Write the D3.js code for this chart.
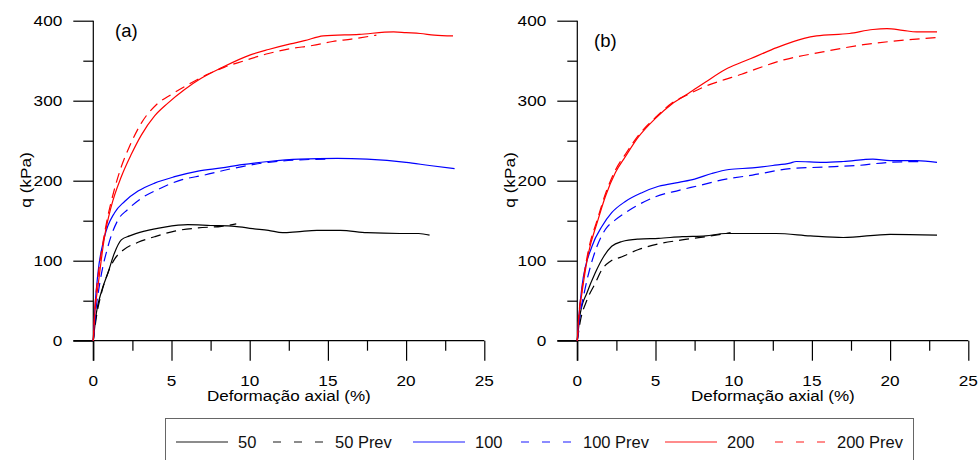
<!DOCTYPE html>
<html><head><meta charset="utf-8">
<script src="https://cdn.jsdelivr.net/npm/d3@7"></script>
<style>body{margin:0;background:#fff}svg{display:block;font-family:"Liberation Sans",Arial,sans-serif}</style>
</head><body><svg id="c" width="980" height="460"></svg>
<script>
const xTicks = [0, 5, 10, 15, 20, 25];
const yTicks = [0, 100, 200, 300, 400];
const xMinor = [2.5, 7.5, 12.5, 17.5, 22.5];
const yMinor = [50, 150, 250, 350];
const seriesNames = ["50", "50 Prev", "100", "100 Prev", "200", "200 Prev"];
const seriesColors = ["#000000", "#000000", "#0000ff", "#0000ff", "#ff0000", "#ff0000"];
const legendColors = ["#666666", "#666666", "#6666ff", "#6666ff", "#ff6666", "#ff6666"];
const seriesDashed = [false, true, false, true, false, true];
const panelLabels = ["(a)", "(b)"];
const xTitle = "Deformação axial (%)";
const yTitle = "q (kPa)";

// Panel (a)
const a50 = [[0,0],[0.2,35],[0.5,60],[0.94,85],[1.36,110],[1.79,126],[2.32,131],[3.28,137],[4.56,142],[6.05,145],[7.5,144],[9.04,143],[10.2,140],[11.2,138],[12.1,135],[13,136],[14.3,138],[15.8,138],[17.5,135],[19.6,134],[20.8,134],[21.5,132]];
const a50p = [[0,0],[0.2,30],[0.5,58],[0.94,85],[1.36,102],[1.9,113],[2.86,123],[3.92,130],[5.2,137],[6.7,141],[8.2,143],[9.14,146]];
const a100 = [[0,0],[0.1,40],[0.3,85],[0.72,130],[1.36,160],[2.0,174],[2.86,187],[3.92,197],[5.2,205],[6.7,212],[8.2,216],[9.5,220],[11.2,224],[13.2,227],[15.6,228],[17.5,227],[20,223],[21.5,219],[23.1,215]];
const a100p = [[0,0],[0.15,35],[0.4,70],[0.94,118],[1.58,151],[2.2,164],[3.07,178],[4.13,189],[5.63,201],[7.1,207],[8.6,214],[11.2,223],[13.2,226],[15,227]];
const a200 = [[0,0],[0.1,35],[0.3,68],[0.72,130],[1.15,168],[1.79,205],[2.43,233],[3.07,257],[3.92,281],[4.77,297],[5.84,314],[6.9,328],[8.18,341],[10,357],[11.2,364],[12.6,371],[13.5,375],[14.7,381],[17,383],[19.2,386],[20,385],[20.9,384],[21.8,382],[23,381]];
const a200p = [[0,0],[0.1,40],[0.3,80],[0.55,115],[0.85,148],[1.36,190],[1.8,218],[2.32,243],[3.07,272],[4.03,295],[5,308],[6.05,320],[7.2,332],[8.4,342],[9.5,349],[11.2,359],[12.6,365],[14,369],[15.3,374],[16.5,377],[18.1,382]];
// Panel (b)
const b50 = [[0,0],[0.2,35],[0.62,60],[1.15,85],[1.68,105],[2.2,118],[2.86,124],[3.92,127],[5.2,128],[6.7,130],[8.2,131],[9.46,134],[11.2,134],[12.7,134],[14.9,131],[17,129],[20,133],[23,132]];
const b50p = [[0,0],[0.2,25],[0.6,50],[1.15,72],[1.58,89],[2.1,99],[2.86,105],[3.92,114],[5.2,121],[6.7,126],[8.2,130],[9.8,135]];
const b100 = [[0,0],[0.1,30],[0.3,68],[0.94,118],[1.58,143],[2.2,160],[3.07,174],[4.13,185],[5.2,193],[6.5,198],[7.5,202],[8.6,209],[9.7,214],[11.2,216],[12.5,219],[13.6,222],[14,224],[15.7,223],[17,224],[18.9,227],[20,225],[21.7,225],[23,223]];
const b100p = [[0,0],[0.15,28],[0.5,65],[1.26,118],[1.79,139],[2.43,151],[3.07,160],[3.92,170],[5,180],[6.5,188],[7.8,194],[9.25,201],[11.2,207],[13.6,215],[15.7,217],[17.9,219],[20,223],[22.1,224]];
const b200 = [[0,0],[0.1,30],[0.3,60],[0.72,110],[1.26,147],[1.79,180],[2.43,210],[3.07,230],[3.92,255],[5,278],[6.05,296],[7.1,309],[8.18,323],[9.46,339],[10.5,348],[11.5,356],[12.7,366],[14.5,378],[15.3,381],[17.4,384],[18.9,389],[19.8,390],[20.8,388],[21.7,386],[23,386]];
const b200p = [[0,0],[0.1,32],[0.3,64],[0.72,114],[1.26,150],[1.79,183],[2.43,213],[3.07,233],[3.92,257],[5,279],[6.05,297],[7.1,308],[8.18,318],[9.36,326],[10.5,333],[11.2,338],[13.2,351],[15.7,361],[18.3,370],[20,374],[23,379]];

const panelData = [[a50, a50p, a100, a100p, a200, a200p], [b50, b50p, b100, b100p, b200, b200p]];

const svg = d3.select("#c");
const FS = 15.5, SX = 1.11;
const panels = [{x0: 93.3, label: [115, 37]}, {x0: 577.3, label: [594, 47]}];

function txt(g, x, y, s, anchor, size, sx, rot) {
  return g.append("text")
    .attr("transform", `translate(${x},${y})` + (rot ? ` rotate(${rot})` : "") + ` scale(${sx},1)`)
    .attr("text-anchor", anchor).attr("font-size", size).attr("fill", "#000").text(s);
}

panels.forEach((p, pi) => {
  const x = d3.scaleLinear().domain([0, 25]).range([p.x0, p.x0 + 391]);
  const y = d3.scaleLinear().domain([0, 400]).range([340.7, 20.7]);
  const g = svg.append("g");
  // axis lines
  g.append("line").attr("x1", x(0)).attr("x2", x(0)).attr("y1", y(400)).attr("y2", y(0) + 20).attr("stroke", "#000").attr("stroke-width", 1.2);
  g.append("line").attr("x1", x(0) - 20).attr("x2", x(25)).attr("y1", y(0)).attr("y2", y(0)).attr("stroke", "#000").attr("stroke-width", 1.2);
  // ticks via d3 axes (labels drawn separately for font stretch)
  const axes = [
    [d3.axisLeft(y).tickValues(yTicks).tickSize(20), `translate(${x(0)},0)`],
    [d3.axisLeft(y).tickValues(yMinor).tickSize(10), `translate(${x(0)},0)`],
    [d3.axisBottom(x).tickValues(xTicks).tickSize(20), `translate(0,${y(0)})`],
    [d3.axisBottom(x).tickValues(xMinor).tickSize(10), `translate(0,${y(0)})`]
  ];
  axes.forEach(([ax, tr]) => {
    const ag = g.append("g").attr("transform", tr).call(ax.tickFormat(""));
    ag.select(".domain").remove();
    ag.selectAll(".tick line").attr("stroke", "#000").attr("stroke-width", 1.2);
  });
  yTicks.forEach(v => txt(g, x(0) - 31, y(v) + 5.5, String(v), "end", FS, SX));
  xTicks.forEach(v => txt(g, x(v), 385.5, String(v), "middle", FS, SX));
  // titles
  txt(g, (x(0) + x(25)) / 2, 401, xTitle, "middle", FS, 1.1);
  txt(g, x(0) - 68, 180, yTitle, "middle", FS, 1.11, -90).attr("dy", "0.35em");
  txt(g, p.label[0], p.label[1], panelLabels[pi], "start", 18.5, 1.0);
  // curves
  const line = d3.line().x(d => x(d[0])).y(d => y(d[1])).curve(d3.curveMonotoneX);
  panelData[pi].forEach((s, si) => {
    g.append("path").attr("d", line(s)).attr("fill", "none")
      .attr("stroke", seriesColors[si]).attr("stroke-width", 1.2)
      .attr("stroke-dasharray", seriesDashed[si] ? "10,6" : null);
  });
});

// legend
const lg = svg.append("g");
lg.append("rect").attr("x", 165.5).attr("y", 418.5).attr("width", 748).attr("height", 60)
  .attr("fill", "#fff").attr("stroke", "#666").attr("stroke-width", 1);
const lx = [176, 273, 413, 521, 665, 775];
seriesNames.forEach((n, i) => {
  lg.append("line").attr("x1", lx[i]).attr("x2", lx[i] + 52).attr("y1", 442).attr("y2", 442)
    .attr("stroke", legendColors[i]).attr("stroke-width", 1.5)
    .attr("stroke-dasharray", seriesDashed[i] ? "8,13" : null);
  txt(lg, lx[i] + 62, 447.5, n, "start", 16, 1.03).attr("fill", "#111");
});
</script></body></html>
